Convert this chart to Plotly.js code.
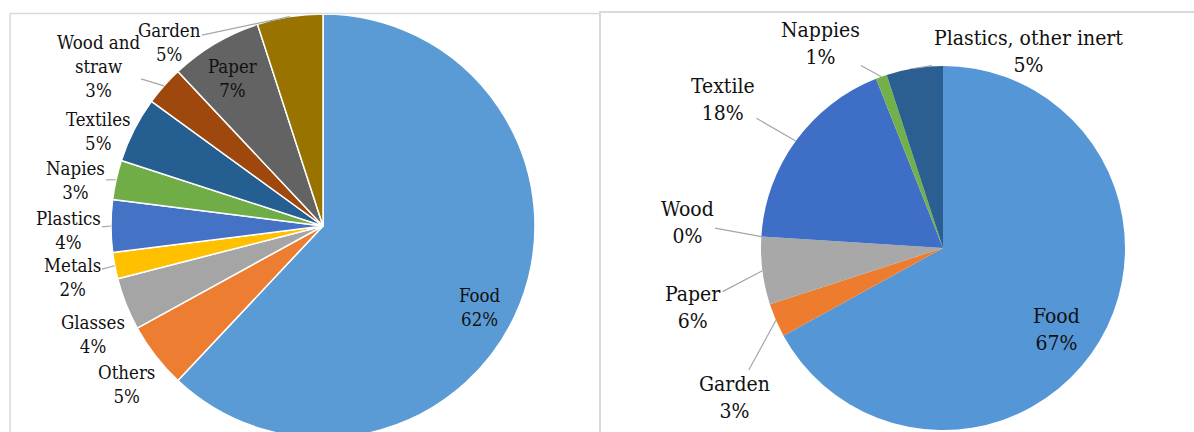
<!DOCTYPE html>
<html>
<head>
<meta charset="utf-8">
<script src="https://cdn.plot.ly/plotly-3.0.1.min.js"></script>
<style>
  html, body { margin: 0; padding: 0; background: #fff; overflow: hidden; }
  #chart { width: 1194px; height: 460px; }
</style>
</head>
<body>
<div id="chart"></div>
<script>
// ---- Data: left chart ----
const leftLabels = ['Food', 'Others', 'Glasses', 'Metals', 'Plastics', 'Napies', 'Textiles', 'Wood and straw', 'Paper', 'Garden'];
const leftDisplay = ['Food', 'Others', 'Glasses', 'Metals', 'Plastics', 'Napies', 'Textiles', 'Wood and<br>straw', 'Paper', 'Garden'];
const leftValues = [62, 5, 4, 2, 4, 3, 5, 3, 7, 5];
const leftColors = ['#5B9BD5', '#ED7D31', '#A5A5A5', '#FFC000', '#4472C4', '#70AD47', '#255E91', '#9E480E', '#636363', '#997300'];

// ---- Data: right chart ----
const rightLabels = ['Food', 'Garden', 'Paper', 'Wood', 'Textile', 'Nappies', 'Plastics, other inert'];
const rightValues = [67, 3, 6, 0, 18, 1, 5];
const rightColors = ['#5597D6', '#EE7C2F', '#A8A8A8', '#FFC000', '#3F6EC6', '#72B04A', '#2B5F92'];

// ---- Layout geometry (pixels) ----
const W = 1194, H = 460;
const leftPie = { cx: 323, cy: 226, r: 212 };
const rightPie = { cx: 943, cy: 248, r: 182 };
const leftLabelPos = [[480, 307, 0], [126, 384, 0], [93, 334, 0], [72, 277, 1], [68, 230, 1], [75, 180, 1], [98, 131, 0], [98, 66, 1], [232, 78, 0], [169, 42, 1]];
const rightLabelPos = [[1056, 329, 0], [734, 397, 1], [693, 307, 1], [687, 223, 1], [723, 99, 1], [820, 43, 1], [1028, 51, 1]];

const px = x => x / W;
const py = y => 1 - y / H;

function domainOf(p) {
  return { x: [px(p.cx - p.r), px(p.cx + p.r)], y: [py(p.cy + p.r), py(p.cy - p.r)] };
}

const fontFamily = 'DejaVu Serif Condensed';

function makeAnnotations(values, display, pie, pos, size) {
  const total = values.reduce((a, b) => a + b, 0);
  let cum = 0;
  const anns = [];
  values.forEach((v, i) => {
    const mid = (cum + v / 2) / total * 2 * Math.PI;
    cum += v;
    const tipX = pie.cx + pie.r * Math.sin(mid);
    const tipY = pie.cy - pie.r * Math.cos(mid);
    const [lx, ly, lead] = pos[i];
    const text = display[i] + '<br>' + Math.round(v / total * 100) + '%';
    const base = {
      text: text, xref: 'paper', yref: 'paper',
      font: { family: fontFamily, size: size, color: '#111111' },
      align: 'center'
    };
    if (lead) {
      anns.push(Object.assign(base, {
        x: px(tipX), y: py(tipY), showarrow: true, arrowhead: 0, arrowwidth: 1.2,
        arrowcolor: '#a6a6a6', ax: lx - tipX, ay: ly - tipY, standoff: 0
      }));
    } else {
      anns.push(Object.assign(base, {
        x: px(lx), y: py(ly), xanchor: 'center', yanchor: 'middle', showarrow: false
      }));
    }
  });
  return anns;
}

const traces = [
  {
    type: 'pie', labels: leftLabels, values: leftValues, sort: false,
    direction: 'clockwise', rotation: 0, textinfo: 'none', textposition: 'none',
    marker: { colors: leftColors, line: { color: '#ffffff', width: 1.5 } },
    domain: domainOf(leftPie), showlegend: false, hoverinfo: 'label+percent'
  },
  {
    type: 'pie', labels: rightLabels, values: rightValues, sort: false,
    direction: 'clockwise', rotation: 0, textinfo: 'none', textposition: 'none',
    marker: { colors: rightColors, line: { color: 'rgba(255,255,255,0)', width: 0 } },
    domain: domainOf(rightPie), showlegend: false, hoverinfo: 'label+percent'
  }
];

const frame = '#d9d9d9';
const shapes = [
  { type: 'line', xref: 'paper', yref: 'paper', x0: px(10), x1: px(599), y0: py(13.5), y1: py(13.5), line: { color: frame, width: 1.5 } },
  { type: 'line', xref: 'paper', yref: 'paper', x0: px(10), x1: px(10), y0: py(13.5), y1: 0, line: { color: frame, width: 1.5 } },
  { type: 'line', xref: 'paper', yref: 'paper', x0: px(600), x1: px(600), y0: py(11), y1: 0, line: { color: frame, width: 2 } },
  { type: 'line', xref: 'paper', yref: 'paper', x0: px(600), x1: 1, y0: py(12), y1: py(12), line: { color: frame, width: 2 } }
];

const layout = {
  width: W, height: H,
  margin: { l: 0, r: 0, t: 0, b: 0 },
  paper_bgcolor: '#ffffff',
  showlegend: false,
  shapes: shapes,
  annotations: makeAnnotations(leftValues, leftDisplay, leftPie, leftLabelPos, 18.5)
    .concat(makeAnnotations(rightValues, rightLabels, rightPie, rightLabelPos, 21))
};

Plotly.newPlot('chart', traces, layout, { displayModeBar: false, staticPlot: true });
</script>
</body>
</html>
